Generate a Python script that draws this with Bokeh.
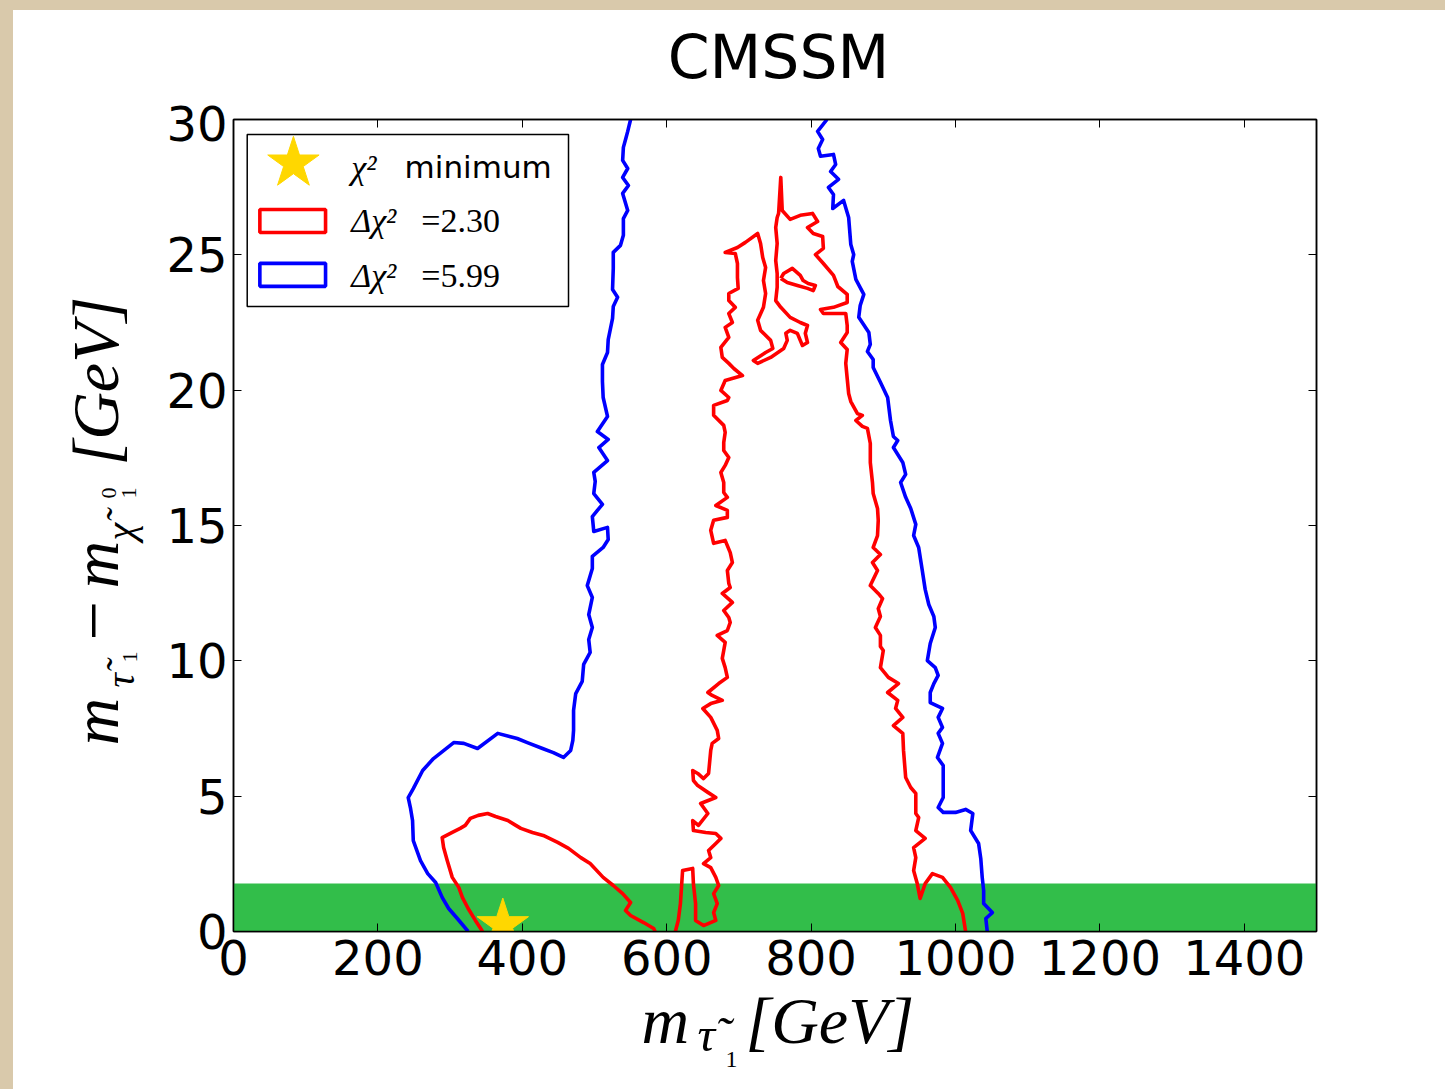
import math
from bokeh.plotting import figure
from bokeh.models import Range1d, FixedTicker, LinearAxis, Label, BoxAnnotation, Spacer
from bokeh.layouts import column, row
from bokeh.embed import file_html
from bokeh.resources import INLINE
from bokeh.core.properties import value

# ---------------- data ----------------
x_ticks = [0, 200, 400, 600, 800, 1000, 1200, 1400]
y_ticks = [0, 5, 10, 15, 20, 25, 30]
tau_mass = 1.777          # green band upper edge (GeV)
star_x = [373]
star_y = [0.24]

blue_left_x = [325, 310, 298, 289, 280, 269, 259, 249, 248, 245, 242, 249, 262, 277, 305, 319, 338, 366, 393, 407,
               428, 443, 457, 467, 470, 471, 471, 474, 483, 485, 494, 492, 497, 492, 497, 490, 497, 497, 512, 519,
               518, 499, 497, 504, 511, 499, 501, 499, 518, 506, 519, 504, 518, 512, 511, 511, 518, 519, 525, 526,
               532, 525, 526, 526, 536, 540, 540, 546, 539, 547, 539, 546, 539, 540, 543, 546, 550]
blue_left_y = [0.0, 0.48, 0.85, 1.26, 1.81, 2.14, 2.62, 3.36, 4.10, 4.58, 4.95, 5.28, 5.95, 6.39, 6.98, 6.95, 6.76, 7.32, 7.13, 6.98,
               6.76, 6.61, 6.43, 6.69, 7.06, 7.43, 8.17, 8.79, 9.24, 9.87, 10.31, 10.79, 11.23, 11.71, 12.34, 12.78, 13.41, 13.86, 14.19, 14.48,
               14.93, 14.78, 15.33, 15.56, 15.78, 16.18, 16.63, 16.96, 17.40, 17.88, 18.18, 18.47, 19.03, 19.73, 20.32, 20.95, 21.39, 21.87, 22.65, 23.09,
               23.43, 23.72, 24.50, 25.09, 25.35, 25.72, 26.34, 26.64, 27.27, 27.56, 27.86, 28.19, 28.49, 28.97, 29.26, 29.56, 30.0]

blue_right_x = [822, 809, 816, 810, 813, 831, 834, 827, 838, 824, 831, 830, 845, 852, 855, 859, 857, 862, 873, 868,
                866, 880, 882, 878, 886, 886, 896, 906, 910, 914, 920, 914, 927, 931, 924, 931, 938, 945, 942, 949,
                954, 958, 963, 970, 972, 965, 961, 972, 976, 970, 965, 965, 982, 976, 982, 976, 982, 975, 983, 983,
                983, 976, 983, 1000, 1014, 1024, 1021, 1032, 1035, 1037, 1039, 1039, 1051, 1042, 1044]
blue_right_y = [30.0, 29.56, 29.26, 28.93, 28.64, 28.71, 28.34, 28.08, 27.79, 27.49, 27.23, 26.71, 27.01, 26.38, 25.38, 25.01, 24.76, 24.09, 23.54, 23.13,
                22.69, 22.13, 21.69, 21.43, 21.13, 20.84, 20.29, 19.73, 18.88, 18.29, 18.14, 17.88, 17.33, 16.89, 16.59, 16.04, 15.63, 15.04, 14.63, 14.19,
                13.34, 12.64, 12.08, 11.64, 11.23, 10.64, 10.01, 9.75, 9.46, 9.16, 8.83, 8.46, 8.24, 7.91, 7.54, 7.32, 6.95, 6.43, 6.13, 5.47,
                4.95, 4.58, 4.40, 4.40, 4.51, 4.36, 3.73, 3.25, 2.70, 2.00, 1.51, 1.03, 0.70, 0.48, 0.0]

red_arc_x = [345, 335, 325, 317, 312, 303, 296, 291, 289, 303, 314, 321, 328, 339, 352, 363, 380, 391, 398, 414,
             429, 449, 464, 481, 494, 512, 526, 539, 550, 543, 550, 568, 582, 584]
red_arc_y = [0.0, 0.41, 0.85, 1.26, 1.63, 2.00, 2.62, 3.10, 3.47, 3.66, 3.81, 3.92, 4.18, 4.29, 4.36, 4.25, 4.10, 3.92, 3.81, 3.66,
             3.55, 3.29, 3.07, 2.73, 2.51, 2.00, 1.70, 1.40, 1.07, 0.78, 0.59, 0.33, 0.11, 0.0]

red_main_x = [612, 616, 619, 622, 636, 637, 640, 640, 651, 668, 665, 670, 665, 672, 668, 661, 651, 661, 658, 668,
              675, 668, 654, 637, 636, 644, 657, 647, 668, 657, 643, 637, 636, 643, 651, 658, 661, 663, 672, 670,
              661, 650, 661, 677, 663, 657, 672, 684, 681, 677, 679, 681, 670, 684, 688, 686, 679, 691, 677, 688,
              686, 684, 691, 688, 681, 665, 661, 665, 684, 684, 668, 684, 679, 679, 675, 681, 686, 679, 679, 681,
              679, 665, 665, 684, 686, 675, 681, 705, 693, 686, 677, 675, 686, 681, 691, 686, 695, 686, 686, 699,
              698, 698, 695, 681, 698, 709, 726, 730, 733, 737, 734, 737, 734, 726, 730, 744, 747, 737, 720, 726,
              744, 762, 767, 765, 771, 781, 785, 788, 795, 792, 795, 785, 771, 758, 751, 753, 753, 751, 753, 751,
              753, 755, 758, 760, 771, 785, 802, 809, 795, 803, 816, 817, 806, 817, 831, 837, 850, 850, 831, 813,
              817, 848, 850, 850, 841, 850, 848, 850, 852, 855, 864, 871, 862, 871, 878, 882, 882, 885, 886, 892,
              893, 892, 886, 896, 885, 892, 882, 893, 899, 893, 896, 889, 896, 896, 900, 896, 907, 921, 906, 920,
              917, 927, 914, 927, 928, 931, 938, 945, 945, 949, 945, 958, 942, 945, 942, 947, 951, 958, 968, 982,
              993, 1003, 1010, 1014]
red_main_y = [0.0, 0.41, 1.03, 2.25, 2.33, 1.77, 1.03, 0.41, 0.22, 0.41, 0.70, 1.03, 1.40, 1.70, 2.00, 2.36, 2.51, 2.73, 2.99, 3.25,
              3.44, 3.62, 3.66, 3.73, 4.10, 3.92, 4.36, 4.73, 4.95, 5.14, 5.39, 5.58, 5.95, 5.84, 5.65, 5.84, 6.69, 6.95, 7.13, 7.43,
              7.91, 8.24, 8.42, 8.54, 8.72, 8.83, 9.16, 9.39, 9.75, 10.09, 10.38, 10.68, 10.94, 11.12, 11.42, 11.60, 11.86, 12.16, 12.49, 12.71,
              12.86, 13.34, 13.63, 14.00, 14.45, 14.34, 14.82, 15.19, 15.30, 15.56, 15.74, 16.04, 16.22, 16.59, 16.96, 17.22, 17.51, 17.77, 18.07, 18.44,
              18.70, 19.07, 19.44, 19.62, 19.73, 19.99, 20.36, 20.54, 20.80, 20.99, 21.21, 21.58, 21.95, 22.32, 22.50, 22.83, 23.06, 23.31, 23.57, 23.76,
              24.16, 24.68, 25.05, 25.09, 25.27, 25.46, 25.79, 25.42, 24.90, 24.53, 24.05, 23.57, 23.06, 22.58, 22.21, 21.84, 21.54, 21.39, 21.10, 20.99,
              21.21, 21.54, 21.84, 22.10, 22.21, 22.10, 21.84, 21.65, 21.76, 22.10, 22.39, 22.50, 22.69, 23.06, 23.31, 23.80, 24.31, 24.79, 25.42, 26.01,
              26.38, 26.53, 27.86, 26.64, 26.31, 26.46, 26.53, 26.23, 26.01, 25.79, 25.68, 25.24, 25.01, 24.68, 24.24, 23.83, 23.54, 23.24, 23.06, 22.98,
              22.83, 22.83, 22.39, 22.13, 21.76, 21.50, 20.99, 20.43, 19.88, 19.58, 19.14, 19.07, 18.88, 18.66, 18.59, 18.03, 17.33, 16.59, 16.18, 15.63,
              15.19, 14.63, 14.19, 13.93, 13.63, 13.34, 12.78, 12.49, 12.30, 11.93, 11.64, 11.23, 10.94, 10.53, 10.38, 9.75, 9.39, 9.16, 8.83, 8.54,
              8.24, 7.91, 7.61, 7.32, 6.69, 5.69, 5.32, 5.10, 4.36, 4.21, 3.73, 3.44, 3.10, 2.73, 2.25, 1.77, 1.22, 1.77, 2.14, 2.00,
              1.63, 1.15, 0.67, 0.0]

red_island_x = [758, 762, 774, 785, 789, 796, 806, 803, 795, 781, 767, 758]
red_island_y = [24.13, 24.31, 24.50, 24.24, 24.05, 23.94, 23.87, 23.68, 23.76, 23.87, 23.98, 24.13]

legend_labels = ["\u03c7\u00b2", "minimum", "\u0394\u03c7\u00b2", "=2.30", "\u0394\u03c7\u00b2", "=5.99"]
title_text = "CMSSM"

# ---------------- styles ----------------
BEIGE = "#d9c9ab"
GREEN = "#32be4a"
GOLD = "#ffd700"
SERIF = "Liberation Serif"
SANS = "DejaVu Sans"
LW = 3.6
BL, BR = 75, 129          # left / right borders of the plot column

# ---------------- main plot ----------------
p = figure(frame_width=1083, frame_height=812,
           x_range=Range1d(0, 1500), y_range=Range1d(0, 30),
           output_backend="svg", toolbar_location=None,
           min_border_left=BL, min_border_right=BR,
           min_border_top=14, min_border_bottom=64,
           background_fill_color="white", border_fill_color="white")
p.grid.visible = False
p.outline_line_color = "black"
p.outline_line_width = 1.5

for ax, ticks in ((p.xaxis[0], x_ticks), (p.yaxis[0], y_ticks)):
    ax.ticker = FixedTicker(ticks=ticks)
    ax.major_label_text_font = SANS
    ax.major_label_text_font_size = "48px"
    ax.major_label_text_color = "black"
    ax.major_tick_in = 8
    ax.major_tick_out = 0
    ax.minor_tick_line_color = None
    ax.axis_line_color = "black"
    ax.axis_line_width = 1.5
    ax.major_tick_line_color = "black"
p.xaxis.major_label_standoff = 8
p.yaxis.major_label_standoff = 6

for side, ticks in (("above", x_ticks), ("right", y_ticks)):
    ax = LinearAxis(ticker=FixedTicker(ticks=ticks),
                    major_label_overrides={t: "" for t in ticks},
                    major_label_text_font_size="1px", major_label_standoff=0,
                    major_tick_in=8, major_tick_out=0,
                    minor_tick_line_color=None,
                    axis_line_color="black", axis_line_width=1.5)
    p.add_layout(ax, side)

p.add_layout(BoxAnnotation(bottom=0, top=tau_mass, fill_color=GREEN, fill_alpha=1.0,
                           line_color=None, level="underlay"))

for xs, ys in ((blue_left_x, blue_left_y), (blue_right_x, blue_right_y)):
    p.line(xs, ys, line_color="#0000ff", line_width=LW, line_join="round")
for xs, ys in ((red_arc_x, red_arc_y), (red_main_x, red_main_y), (red_island_x, red_island_y)):
    p.line(xs, ys, line_color="#ff0000", line_width=LW, line_join="round")

p.scatter(star_x, star_y, marker="star", size=54, fill_color=GOLD, line_color=GOLD)

# legend (matplotlib style, drawn inside the frame)
p.quad(left=[19], right=[464], bottom=[23.09], top=[29.45],
       fill_color="white", line_color="black", line_width=1.5)
p.scatter([83], [28.38], marker="star", size=54, fill_color=GOLD, line_color=GOLD)
p.rect([82], [26.25], width=91, height=0.85, fill_color=None, line_color="#ff0000", line_width=LW)
p.rect([82], [24.26], width=91, height=0.85, fill_color=None, line_color="#0000ff", line_width=LW)

def lab(x, y, text, size, font=SERIF, style="italic"):
    p.add_layout(Label(x=x, y=y, text=text, text_font=font,
                       text_font_size=size, text_font_style=style, text_color="black",
                       text_align="left", text_baseline="alphabetic"))

lab(163, 28.23, legend_labels[0], "34px")
lab(237, 28.23, legend_labels[1], "31px", font=SANS, style="normal")
lab(163, 26.27, legend_labels[2], "34px")
lab(260, 26.27, legend_labels[3], "34px", style="normal")
lab(163, 24.24, legend_labels[4], "34px")
lab(260, 24.24, legend_labels[5], "34px", style="normal")

# ---------------- title / axis-title strips (pixel coordinates) ----------------
def strip(w, h, bl=0, br=0):
    f = figure(frame_width=w, frame_height=h, x_range=Range1d(0, w), y_range=Range1d(0, h),
               output_backend="svg", toolbar_location=None, x_axis_type=None, y_axis_type=None,
               min_border=0, min_border_left=bl, min_border_right=br,
               outline_line_color=None,
               background_fill_color="white", border_fill_color="white")
    f.grid.visible = False
    return f

def txt(f, xs, ys, texts, size, style="italic", angle=0.0, font=SERIF, align="left"):
    f.text(x=xs, y=ys, text=texts, angle=angle, text_font=value(font),
           text_font_size=value(size), text_font_style=value(style),
           text_color="black", text_align=value(align), text_baseline=value("alphabetic"))

# title strip
tl = strip(1083, 95, BL, BR)
txt(tl, [545], [49], [title_text], "60px", style="normal", font=SANS, align="center")

# x title: m_{tau~_1} [GeV]   (x measured from the plot frame's left edge)
xl = strip(1083, 94, BL, BR)
txt(xl, [408, 512], [69], ["m", "[GeV]"], "66px") if False else None
txt(xl, [408, 512], [69, 69], ["m", "[GeV]"], "66px")
txt(xl, [464], [55], ["\u03c4\u0303"], "49px")
txt(xl, [492], [30], ["1"], "24px", style="normal")

# y title: m_{tau~_1} - m_{chi~^0_1} [GeV]
R = math.pi / 2
yl = strip(145, 1079)
txt(yl, [82, 82, 82], [344, 501, 624], ["m", "m", "[GeV]"], "66px", angle=R)
txt(yl, [107, 107], [402, 549], ["\u03c4\u0303", "\u03c7\u0303"], "40px", angle=R)
txt(yl, [116, 95, 115], [427, 591, 591], ["1", "0", "1"], "22px", style="normal", angle=R)
txt(yl, [80], [449], ["\u2212"], "70px", style="normal", angle=R)

layout = column(
    Spacer(width=1445, height=10, styles={"background-color": BEIGE}),
    row(Spacer(width=13, height=1079, styles={"background-color": BEIGE}), yl, column(tl, p, xl)),
)

open("out.html", "w").write(file_html(layout, INLINE))
